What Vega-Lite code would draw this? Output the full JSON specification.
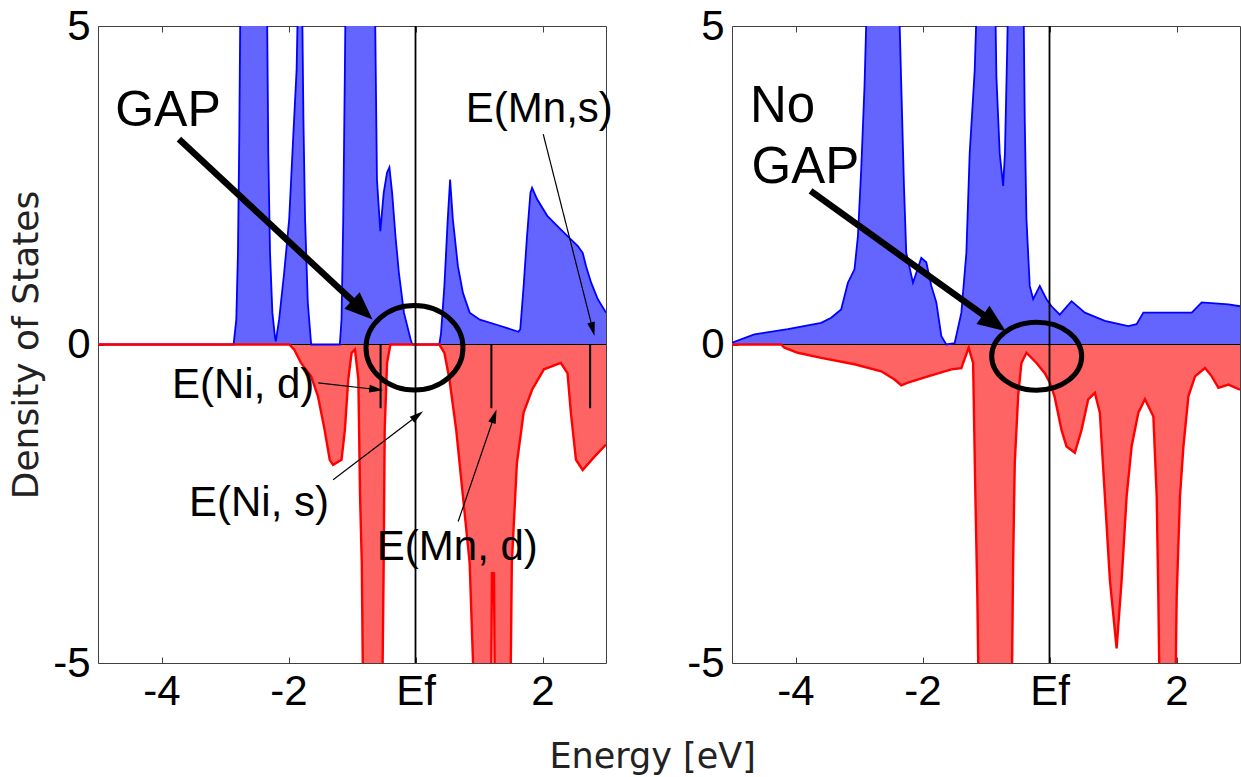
{
  "$schema": "https://vega.github.io/schema/vega-lite/v6.json",
  "background": "white",
  "padding": {"left": 8, "top": 4, "right": 0, "bottom": 0},
  "bounds": "flush",
  "spacing": 126,
  "title": {"text": "Energy [eV]", "orient": "bottom", "anchor": "middle", "font": "DejaVu Sans", "fontSize": 35, "fontWeight": "normal", "color": "#222222", "offset": 27, "dx": 28},
  "config": {
    "view": {"stroke": "#404040", "strokeWidth": 1},
    "axis": {"labelFont": "Liberation Sans", "labelFontSize": 42, "labelColor": "#000000", "tickColor": "#404040", "tickWidth": 1, "grid": false, "domain": false}
  },
  "datasets": {
    "lu": [
      {"E": -5, "D": 0}, {"E": -2.865, "D": 0}, {"E": -2.822, "D": 0.39}, {"E": -2.796, "D": 1.44}, {"E": -2.775, "D": 3.27}, {"E": -2.753, "D": 6},
      {"E": -2.344, "D": 6}, {"E": -2.318, "D": 3.01}, {"E": -2.291, "D": 1.44}, {"E": -2.254, "D": 0.5}, {"E": -2.211, "D": 0.1}, {"E": -2.2, "D": 0.05},
      {"E": -2.148, "D": 0.39}, {"E": -2.068, "D": 1.13}, {"E": -1.989, "D": 1.97}, {"E": -1.925, "D": 3.27}, {"E": -1.872, "D": 4.32}, {"E": -1.84, "D": 6},
      {"E": -1.792, "D": 6}, {"E": -1.765, "D": 3.54}, {"E": -1.739, "D": 1.97}, {"E": -1.696, "D": 0.66}, {"E": -1.643, "D": 0}, {"E": -1.192, "D": 0},
      {"E": -1.165, "D": 0.39}, {"E": -1.138, "D": 1.97}, {"E": -1.112, "D": 4.32}, {"E": -1.096, "D": 6}, {"E": -0.645, "D": 6}, {"E": -0.607, "D": 2.59},
      {"E": -0.57, "D": 2.02}, {"E": -0.554, "D": 1.78}, {"E": -0.501, "D": 2.38}, {"E": -0.448, "D": 2.7}, {"E": -0.411, "D": 2.78}, {"E": -0.368, "D": 2.38},
      {"E": -0.315, "D": 1.7}, {"E": -0.262, "D": 1.13}, {"E": -0.182, "D": 0.5}, {"E": -0.076, "D": 0.08}, {"E": -0.05, "D": 0}, {"E": 0.375, "D": 0},
      {"E": 0.402, "D": 0.18}, {"E": 0.455, "D": 0.92}, {"E": 0.508, "D": 1.97}, {"E": 0.545, "D": 2.59}, {"E": 0.588, "D": 1.97}, {"E": 0.668, "D": 1.23},
      {"E": 0.747, "D": 0.81}, {"E": 0.853, "D": 0.5}, {"E": 1.013, "D": 0.39}, {"E": 1.278, "D": 0.31}, {"E": 1.62, "D": 0.2}, {"E": 1.65, "D": 0.24},
      {"E": 1.703, "D": 0.92}, {"E": 1.756, "D": 1.7}, {"E": 1.81, "D": 2.38}, {"E": 1.836, "D": 2.46}, {"E": 1.916, "D": 2.28}, {"E": 2.075, "D": 2.02},
      {"E": 2.235, "D": 1.86}, {"E": 2.394, "D": 1.7}, {"E": 2.553, "D": 1.55}, {"E": 2.633, "D": 1.44}, {"E": 2.686, "D": 1.23}, {"E": 2.766, "D": 0.97},
      {"E": 2.872, "D": 0.71}, {"E": 3.0, "D": 0.5}
    ],
    "ld": [
      {"E": -5, "D": 0}, {"E": -1.988, "D": 0}, {"E": -1.909, "D": -0.08}, {"E": -1.803, "D": -0.29}, {"E": -1.643, "D": -0.5}, {"E": -1.537, "D": -0.81},
      {"E": -1.431, "D": -1.34}, {"E": -1.351, "D": -1.81}, {"E": -1.298, "D": -1.89}, {"E": -1.165, "D": -1.81}, {"E": -1.112, "D": -1.34}, {"E": -1.059, "D": -0.55},
      {"E": -1.006, "D": -0.13}, {"E": -0.953, "D": -0.08}, {"E": -0.9, "D": -0.55}, {"E": -0.873, "D": -2.38}, {"E": -0.846, "D": -3.43}, {"E": -0.82, "D": -6},
      {"E": -0.528, "D": -6}, {"E": -0.501, "D": -3.43}, {"E": -0.485, "D": -1.34}, {"E": -0.448, "D": -0.29}, {"E": -0.395, "D": 0}, {"E": 0.375, "D": 0},
      {"E": 0.455, "D": -0.13}, {"E": 0.535, "D": -0.55}, {"E": 0.641, "D": -1.34}, {"E": 0.747, "D": -2.38}, {"E": 0.853, "D": -3.43}, {"E": 0.94, "D": -6},
      {"E": 1.188, "D": -6}, {"E": 1.204, "D": -3.59}, {"E": 1.236, "D": -3.59}, {"E": 1.252, "D": -6}, {"E": 1.491, "D": -6}, {"E": 1.517, "D": -3.43},
      {"E": 1.597, "D": -1.86}, {"E": 1.703, "D": -1.07}, {"E": 1.836, "D": -0.71}, {"E": 2.022, "D": -0.39}, {"E": 2.288, "D": -0.29}, {"E": 2.394, "D": -0.45},
      {"E": 2.447, "D": -1.07}, {"E": 2.527, "D": -1.81}, {"E": 2.633, "D": -1.97}, {"E": 2.819, "D": -1.76}, {"E": 3.0, "D": -1.57}
    ],
    "ru": [
      {"E": -5, "D": 0.03}, {"E": -4.648, "D": 0.16}, {"E": -4.121, "D": 0.24}, {"E": -3.596, "D": 0.34}, {"E": -3.438, "D": 0.42}, {"E": -3.281, "D": 0.55},
      {"E": -3.175, "D": 0.97}, {"E": -3.071, "D": 1.18}, {"E": -3.017, "D": 1.7}, {"E": -2.965, "D": 2.75}, {"E": -2.913, "D": 4.06}, {"E": -2.86, "D": 6},
      {"E": -2.386, "D": 6}, {"E": -2.334, "D": 4.06}, {"E": -2.292, "D": 2.49}, {"E": -2.256, "D": 1.44}, {"E": -2.15, "D": 0.97}, {"E": -2.019, "D": 1.36},
      {"E": -1.94, "D": 1.29}, {"E": -1.861, "D": 0.92}, {"E": -1.782, "D": 0.66}, {"E": -1.703, "D": 0.13}, {"E": -1.625, "D": 0}, {"E": -1.494, "D": 0.02},
      {"E": -1.388, "D": 0.5}, {"E": -1.309, "D": 1.44}, {"E": -1.257, "D": 3.0}, {"E": -1.178, "D": 4.3}, {"E": -1.125, "D": 6}, {"E": -0.863, "D": 6},
      {"E": -0.836, "D": 4.2}, {"E": -0.784, "D": 3.0}, {"E": -0.73, "D": 2.49}, {"E": -0.702, "D": 3.0}, {"E": -0.667, "D": 4.6}, {"E": -0.642, "D": 6},
      {"E": -0.415, "D": 6}, {"E": -0.39, "D": 3.54}, {"E": -0.363, "D": 1.97}, {"E": -0.311, "D": 0.92}, {"E": -0.257, "D": 0.71}, {"E": -0.153, "D": 0.92},
      {"E": -0.047, "D": 0.71}, {"E": 0.032, "D": 0.6}, {"E": 0.162, "D": 0.47}, {"E": 0.347, "D": 0.68}, {"E": 0.557, "D": 0.5}, {"E": 0.872, "D": 0.37},
      {"E": 1.241, "D": 0.29}, {"E": 1.372, "D": 0.32}, {"E": 1.478, "D": 0.5}, {"E": 2.24, "D": 0.5}, {"E": 2.397, "D": 0.66}, {"E": 2.819, "D": 0.63},
      {"E": 3.0, "D": 0.6}
    ],
    "rd": [
      {"E": -5, "D": 0}, {"E": -4.227, "D": 0}, {"E": -4.175, "D": -0.05}, {"E": -3.964, "D": -0.13}, {"E": -3.596, "D": -0.21}, {"E": -3.071, "D": -0.31},
      {"E": -2.65, "D": -0.42}, {"E": -2.44, "D": -0.55}, {"E": -2.334, "D": -0.64}, {"E": -2.229, "D": -0.6}, {"E": -1.913, "D": -0.5}, {"E": -1.546, "D": -0.39},
      {"E": -1.388, "D": -0.37}, {"E": -1.273, "D": -0.05}, {"E": -1.203, "D": -0.29}, {"E": -1.167, "D": -2.38}, {"E": -1.136, "D": -3.96}, {"E": -1.109, "D": -6},
      {"E": -0.599, "D": -6}, {"E": -0.573, "D": -3.43}, {"E": -0.547, "D": -1.86}, {"E": -0.494, "D": -0.81}, {"E": -0.442, "D": -0.29}, {"E": -0.363, "D": -0.13},
      {"E": -0.205, "D": -0.29}, {"E": -0.074, "D": -0.45}, {"E": 0.005, "D": -0.6}, {"E": 0.078, "D": -0.81}, {"E": 0.189, "D": -1.34}, {"E": 0.268, "D": -1.6},
      {"E": 0.399, "D": -1.7}, {"E": 0.505, "D": -1.34}, {"E": 0.61, "D": -0.86}, {"E": 0.715, "D": -0.76}, {"E": 0.793, "D": -1.07}, {"E": 0.872, "D": -2.38},
      {"E": 0.951, "D": -3.7}, {"E": 1.057, "D": -4.77}, {"E": 1.136, "D": -3.7}, {"E": 1.215, "D": -2.38}, {"E": 1.293, "D": -1.6}, {"E": 1.399, "D": -1.07},
      {"E": 1.503, "D": -0.86}, {"E": 1.636, "D": -1.13}, {"E": 1.688, "D": -2.38}, {"E": 1.714, "D": -3.96}, {"E": 1.74, "D": -6}, {"E": 1.976, "D": -6},
      {"E": 2.003, "D": -3.96}, {"E": 2.055, "D": -2.38}, {"E": 2.109, "D": -1.6}, {"E": 2.188, "D": -0.81}, {"E": 2.292, "D": -0.5}, {"E": 2.449, "D": -0.37},
      {"E": 2.555, "D": -0.5}, {"E": 2.661, "D": -0.68}, {"E": 2.819, "D": -0.63}, {"E": 3.0, "D": -0.71}
    ],
    "lmark": [{"E": -0.55, "D1": 0, "D2": -1.0}, {"E": 1.195, "D1": 0, "D2": -1.0}, {"E": 2.75, "D1": 0, "D2": -1.0}],
    "larrow": [
      {"E1": -1.532, "D1": -0.603, "E2": -0.618, "D2": -0.706},
      {"E1": -1.297, "D1": -2.123, "E2": 0.033, "D2": -1.115},
      {"E1": 0.672, "D1": -2.778, "E2": 1.24, "D2": -1.126},
      {"E1": 2.011, "D1": 3.302, "E2": 2.792, "D2": 0.238}
    ],
    "lhead": [
      {"E": -0.618, "D": -0.706, "angle": 96.5},
      {"E": 0.033, "D": -1.115, "angle": 52.8},
      {"E": 1.24, "D": -1.126, "angle": 18.9},
      {"E": 2.792, "D": 0.238, "angle": 165.7}
    ],
    "lbig": [{"E1": -3.725, "D1": 3.223, "E2": -0.838, "D2": 0.542}],
    "lbighead": [{"E": -0.838, "D": 0.542, "angle": 132.9}],
    "lcircle": [{"E": -0.016, "D": -0.052}],
    "lgap": [{"label": "GAP", "E": -4.729, "D": 3.432}],
    "llabels": [
      {"label": "E(Ni, d)", "E": -2.714, "D": -0.839},
      {"label": "E(Ni, s)", "E": -2.465, "D": -2.7},
      {"label": "E(Mn, d)", "E": 0.659, "D": -3.381},
      {"label": "E(Mn,s)", "E": 1.95, "D": 3.486}
    ],
    "rbig": [{"E1": -3.763, "D1": 2.41, "E2": -0.868, "D2": 0.338}],
    "rbighead": [{"E": -0.868, "D": 0.338, "angle": 125.7}],
    "rcircle": [{"E": -0.202, "D": -0.184}],
    "rgap": [{"label": "No", "E": -4.716, "D": 3.486}, {"label": "GAP", "E": -4.692, "D": 2.543}]
  },
  "hconcat": [
    {
      "width": 508,
      "height": 637,
      "resolve": {"axis": {"x": "independent"}},
      "layer": [
        {
          "layer": [
            {
              "data": {"name": "lu"},
              "mark": {"type": "area", "color": "#6464FF", "opacity": 1, "clip": true},
              "encoding": {
                "x": {"field": "E", "type": "quantitative", "scale": {"domain": [-5, 3], "nice": false, "zero": false},
                      "axis": {"orient": "bottom", "values": [-4, -2, 0, 2], "labelExpr": "datum.value == 0 ? 'Ef' : toString(datum.value)", "tickSize": -6, "labelPadding": 14, "title": null, "labelFlush": false, "labelOverlap": false}},
                "y": {"field": "D", "type": "quantitative", "scale": {"domain": [-5, 5], "nice": false, "zero": false},
                      "axis": {"values": [-5, 0, 5], "labelExpr": "toString(datum.value)", "tickSize": -6, "labelPadding": 14, "labelFlush": false, "labelOverlap": false, "title": "Density of States", "titleFont": "DejaVu Sans", "titleFontSize": 36, "titleFontWeight": "normal", "titleColor": "#222222", "titlePadding": 7}},
                "y2": {"datum": 0}
              }
            },
            {
              "data": {"name": "ld"},
              "mark": {"type": "area", "color": "#FF6464", "opacity": 1, "clip": true},
              "encoding": {"x": {"field": "E", "type": "quantitative"}, "y": {"field": "D", "type": "quantitative"}, "y2": {"datum": 0}}
            },
            {
              "data": {"values": [{}]},
              "mark": {"type": "rule", "color": "#000000", "strokeWidth": 1.2},
              "encoding": {"y": {"datum": 0, "type": "quantitative"}}
            },
            {
              "data": {"name": "lu"},
              "mark": {"type": "line", "color": "#0000FF", "strokeWidth": 1.8, "clip": true},
              "encoding": {"x": {"field": "E", "type": "quantitative"}, "y": {"field": "D", "type": "quantitative"}}
            },
            {
              "data": {"name": "ld"},
              "mark": {"type": "line", "color": "#FF0000", "strokeWidth": 2.4, "clip": true},
              "encoding": {"x": {"field": "E", "type": "quantitative"}, "y": {"field": "D", "type": "quantitative"}}
            },
            {
              "data": {"values": [{}]},
              "mark": {"type": "rule", "color": "#000000", "strokeWidth": 1.8},
              "encoding": {"x": {"datum": 0, "type": "quantitative"}}
            },
            {
              "data": {"name": "lmark"},
              "mark": {"type": "rule", "color": "#000000", "strokeWidth": 2},
              "encoding": {"x": {"field": "E", "type": "quantitative"}, "y": {"field": "D1", "type": "quantitative"}, "y2": {"field": "D2"}}
            },
            {
              "data": {"name": "larrow"},
              "mark": {"type": "rule", "color": "#000000", "strokeWidth": 1.2},
              "encoding": {"x": {"field": "E1", "type": "quantitative"}, "y": {"field": "D1", "type": "quantitative"}, "x2": {"field": "E2"}, "y2": {"field": "D2"}}
            },
            {
              "data": {"name": "lhead"},
              "mark": {"type": "point", "shape": "M 0 -1 L 0.55 1 L -0.55 1 Z", "size": 196, "filled": true, "color": "#000000", "opacity": 1},
              "encoding": {"x": {"field": "E", "type": "quantitative"}, "y": {"field": "D", "type": "quantitative"}, "angle": {"field": "angle", "type": "quantitative", "scale": null}}
            },
            {
              "data": {"name": "lbig"},
              "mark": {"type": "rule", "color": "#000000", "strokeWidth": 6.5, "strokeCap": "butt"},
              "encoding": {"x": {"field": "E1", "type": "quantitative"}, "y": {"field": "D1", "type": "quantitative"}, "x2": {"field": "E2"}, "y2": {"field": "D2"}}
            },
            {
              "data": {"name": "lbighead"},
              "mark": {"type": "point", "shape": "M 0 -1 L 0.8 1 L -0.8 1 Z", "size": 784, "filled": true, "color": "#000000", "opacity": 1},
              "encoding": {"x": {"field": "E", "type": "quantitative"}, "y": {"field": "D", "type": "quantitative"}, "angle": {"field": "angle", "type": "quantitative", "scale": null}}
            },
            {
              "data": {"name": "lcircle"},
              "mark": {"type": "point", "shape": "M 1 0 C 1 0.48 0.552 0.87 0 0.87 C -0.552 0.87 -1 0.48 -1 0 C -1 -0.48 -0.552 -0.87 0 -0.87 C 0.552 -0.87 1 -0.48 1 0 Z", "size": 9409, "filled": false, "stroke": "#000000", "strokeWidth": 5, "opacity": 1},
              "encoding": {"x": {"field": "E", "type": "quantitative"}, "y": {"field": "D", "type": "quantitative"}}
            },
            {
              "data": {"name": "lgap"},
              "mark": {"type": "text", "font": "Liberation Sans", "fontSize": 50, "color": "#000000", "align": "left", "baseline": "alphabetic"},
              "encoding": {"x": {"field": "E", "type": "quantitative"}, "y": {"field": "D", "type": "quantitative"}, "text": {"field": "label"}}
            },
            {
              "data": {"name": "llabels"},
              "mark": {"type": "text", "font": "Liberation Sans", "fontSize": 42, "color": "#000000", "align": "center", "baseline": "alphabetic"},
              "encoding": {"x": {"field": "E", "type": "quantitative"}, "y": {"field": "D", "type": "quantitative"}, "text": {"field": "label"}}
            }
          ]
        },
        {
          "data": {"values": [{}]},
          "mark": {"type": "rule", "opacity": 0},
          "encoding": {"x": {"datum": 0, "type": "quantitative", "axis": {"orient": "top", "values": [-4, -2, 0, 2], "labels": false, "tickSize": -6, "title": null}}}
        }
      ]
    },
    {
      "width": 508,
      "height": 637,
      "resolve": {"axis": {"x": "independent"}},
      "layer": [
        {
          "layer": [
            {
              "data": {"name": "ru"},
              "mark": {"type": "area", "color": "#6464FF", "opacity": 1, "clip": true},
              "encoding": {
                "x": {"field": "E", "type": "quantitative", "scale": {"domain": [-5, 3], "nice": false, "zero": false},
                      "axis": {"orient": "bottom", "values": [-4, -2, 0, 2], "labelExpr": "datum.value == 0 ? 'Ef' : toString(datum.value)", "tickSize": -6, "labelPadding": 14, "title": null, "labelFlush": false, "labelOverlap": false}},
                "y": {"field": "D", "type": "quantitative", "scale": {"domain": [-5, 5], "nice": false, "zero": false},
                      "axis": {"values": [-5, 0, 5], "labelExpr": "toString(datum.value)", "tickSize": -6, "labelPadding": 14, "labelFlush": false, "labelOverlap": false, "title": null}},
                "y2": {"datum": 0}
              }
            },
            {
              "data": {"name": "rd"},
              "mark": {"type": "area", "color": "#FF6464", "opacity": 1, "clip": true},
              "encoding": {"x": {"field": "E", "type": "quantitative"}, "y": {"field": "D", "type": "quantitative"}, "y2": {"datum": 0}}
            },
            {
              "data": {"values": [{}]},
              "mark": {"type": "rule", "color": "#000000", "strokeWidth": 1.2},
              "encoding": {"y": {"datum": 0, "type": "quantitative"}}
            },
            {
              "data": {"name": "ru"},
              "mark": {"type": "line", "color": "#0000FF", "strokeWidth": 1.8, "clip": true},
              "encoding": {"x": {"field": "E", "type": "quantitative"}, "y": {"field": "D", "type": "quantitative"}}
            },
            {
              "data": {"name": "rd"},
              "mark": {"type": "line", "color": "#FF0000", "strokeWidth": 2.4, "clip": true},
              "encoding": {"x": {"field": "E", "type": "quantitative"}, "y": {"field": "D", "type": "quantitative"}}
            },
            {
              "data": {"values": [{}]},
              "mark": {"type": "rule", "color": "#000000", "strokeWidth": 1.8},
              "encoding": {"x": {"datum": 0, "type": "quantitative"}}
            },
            {
              "data": {"name": "rbig"},
              "mark": {"type": "rule", "color": "#000000", "strokeWidth": 6.5, "strokeCap": "butt"},
              "encoding": {"x": {"field": "E1", "type": "quantitative"}, "y": {"field": "D1", "type": "quantitative"}, "x2": {"field": "E2"}, "y2": {"field": "D2"}}
            },
            {
              "data": {"name": "rbighead"},
              "mark": {"type": "point", "shape": "M 0 -1 L 0.8 1 L -0.8 1 Z", "size": 784, "filled": true, "color": "#000000", "opacity": 1},
              "encoding": {"x": {"field": "E", "type": "quantitative"}, "y": {"field": "D", "type": "quantitative"}, "angle": {"field": "angle", "type": "quantitative", "scale": null}}
            },
            {
              "data": {"name": "rcircle"},
              "mark": {"type": "point", "shape": "M 1 0 C 1 0.417 0.552 0.755 0 0.755 C -0.552 0.755 -1 0.417 -1 0 C -1 -0.417 -0.552 -0.755 0 -0.755 C 0.552 -0.755 1 -0.417 1 0 Z", "size": 8100, "filled": false, "stroke": "#000000", "strokeWidth": 5, "opacity": 1},
              "encoding": {"x": {"field": "E", "type": "quantitative"}, "y": {"field": "D", "type": "quantitative"}}
            },
            {
              "data": {"name": "rgap"},
              "mark": {"type": "text", "font": "Liberation Sans", "fontSize": 51, "color": "#000000", "align": "left", "baseline": "alphabetic"},
              "encoding": {"x": {"field": "E", "type": "quantitative"}, "y": {"field": "D", "type": "quantitative"}, "text": {"field": "label"}}
            }
          ]
        },
        {
          "data": {"values": [{}]},
          "mark": {"type": "rule", "opacity": 0},
          "encoding": {"x": {"datum": 0, "type": "quantitative", "axis": {"orient": "top", "values": [-4, -2, 0, 2], "labels": false, "tickSize": -6, "title": null}}}
        }
      ]
    }
  ]
}
